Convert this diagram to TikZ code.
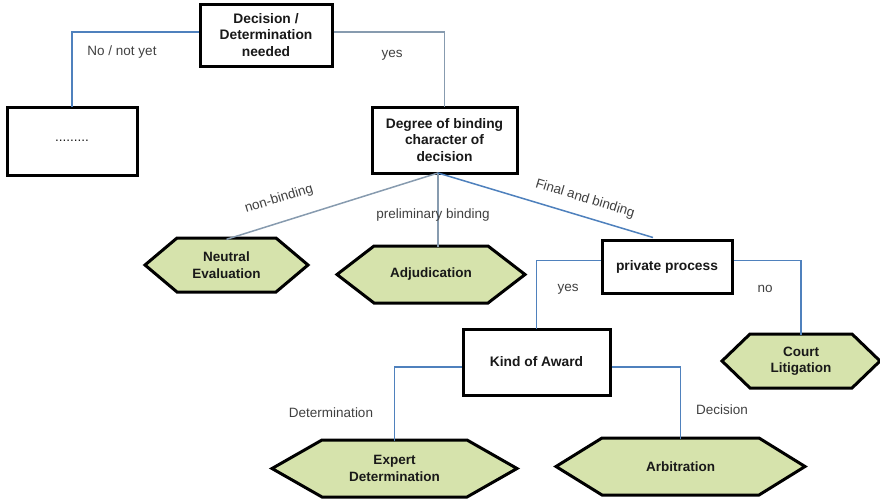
\documentclass[tikz,border=0pt]{standalone}
\usepackage{fontspec}
\setmainfont{Liberation Sans}
\definecolor{lineblue}{RGB}{79,129,189}
\definecolor{linegray}{RGB}{135,155,175}
\definecolor{hexfill}{RGB}{214,227,172}
\definecolor{labelgray}{RGB}{64,64,64}
\tikzset{
  box/.style={draw=black, line width=3pt, fill=white, align=center, inner sep=2pt,
    font=\bfseries\fontsize{13.8}{16.5}\selectfont, text=black!90},
  hexnode/.style={align=center, inner sep=0pt, font=\bfseries\fontsize{13.5}{16.5}\selectfont, text=black!90},
  hexline/.style={draw=black, line width=3pt, fill=hexfill, line join=miter},
  bluecon/.style={draw=lineblue, line width=1.5pt},
  graycon/.style={draw=linegray, line width=1.5pt},
  lbl/.style={font=\fontsize{13.5}{16}\selectfont, text=labelgray, inner sep=0pt}
}
% name, cx, cy, half width, half height, inset, text
\newcommand\hexa[7]{%
  \path[hexline] ({#2-#4},#3) -- ({#2-#4+#6},{#3-#5}) -- ({#2+#4-#6},{#3-#5}) -- ({#2+#4},#3)
    -- ({#2+#4-#6},{#3+#5}) -- ({#2-#4+#6},{#3+#5}) -- cycle;
  \node[hexnode, minimum width={2*#4pt}, minimum height={2*#5pt}] (#1) at (#2,#3) {#7};
}
\begin{document}
\begin{tikzpicture}[x=1pt, y=-1pt]
\useasboundingbox (0,0) rectangle (880,501);

% connectors first (drawn under boxes)
\coordinate (dsrc) at (438,173);
% rectangular boxes
\node[box, minimum width=132pt, minimum height=62pt] (dec) at (266,35) {Decision /\\Determination\\needed};
\node[box, minimum width=130pt, minimum height=68pt, font=\fontsize{13.5}{16}\selectfont] (dots) at (72,141) {.........};
\node[box, minimum width=145pt, minimum height=66pt] (deg) at (444.5,140) {Degree of binding\\character of\\decision};
\node[box, minimum width=130pt, minimum height=53pt] (priv) at (667,266.5) {private process};
\node[box, minimum width=147pt, minimum height=66pt] (kind) at (536.5,362) {Kind of Award};

% hexagons
\hexa{neut}{226.5}{265}{81.5}{27}{32}{Neutral\\Evaluation}
\hexa{adj}{431}{274.5}{94}{28.5}{37}{Adjudication}
\hexa{court}{801}{361}{79}{27}{28}{Court\\Litigation}
\hexa{exp}{394.5}{468.5}{122.5}{28.5}{50}{Expert\\Determination}
\hexa{arb}{680.5}{466.5}{124.5}{28.5}{46}{Arbitration}

% connectors
\draw[bluecon] ([yshift=3pt]dec.west) -| ([yshift=-1.5pt]dots.north);
\draw[graycon] ([yshift=3pt]dec.east) -| ([yshift=-1.5pt]deg.north);
\draw[graycon] (dsrc) -- ([yshift=-1.5pt]neut.north);
\draw[graycon] (dsrc) -- ([yshift=-1.5pt]dsrc |- adj.north);
\draw[bluecon] (dsrc) -- ([xshift=-14pt,yshift=1pt]priv.north);
\draw[bluecon] ([yshift=6pt]priv.west) -| ([yshift=-1.5pt]kind.north);
\draw[bluecon] ([yshift=6pt]priv.east) -| ([yshift=-1.5pt]court.north);
\draw[bluecon] ([yshift=-5pt]kind.west) -| ([yshift=-1.5pt]exp.north);
\draw[bluecon] ([yshift=-5pt]kind.east) -| ([yshift=-1.5pt]arb.north);

% labels
\node[lbl] (l1) at (122,52) {No / not yet};
\node[lbl] (l2) at (392,55) {yes};
\node[lbl, rotate=17] (l3) at (279,199) {non-binding};
\node[lbl] (l4) at (433,215) {preliminary binding};
\node[lbl, rotate=-17] (l5) at (585,199) {Final and binding};
\node[lbl] (l6) at (568,289) {yes};
\node[lbl] (l7) at (765,289) {no};
\node[lbl] (l8) at (331,413) {Determination};
\node[lbl] (l9) at (722,410) {Decision};
\end{tikzpicture}
\end{document}
